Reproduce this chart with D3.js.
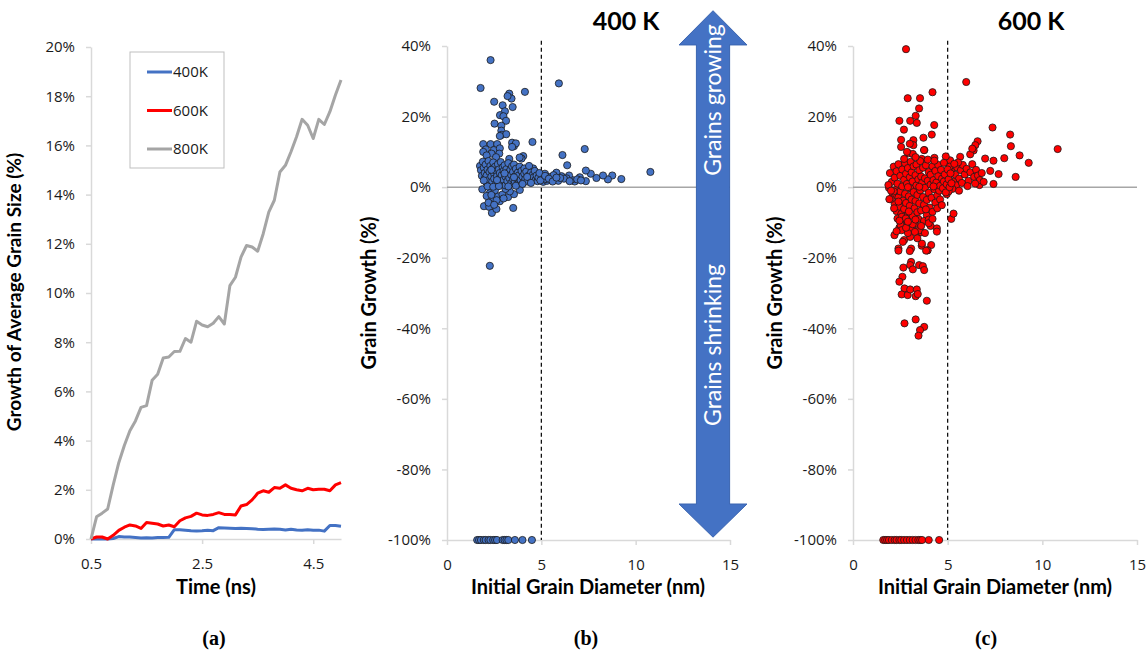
<!DOCTYPE html>
<html>
<head>
<meta charset="utf-8">
<script src="https://cdn.jsdelivr.net/npm/d3@7"></script>
<style>
  html, body { margin: 0; padding: 0; background: #fff; }
  svg { display: block; }
  .tick text { font-family: "Open Sans", sans-serif; font-size: 15px; fill: #1a1a1a; }
  .axis-title { font-family: Lato, sans-serif; font-weight: 700; font-size: 20px; fill: #000; }
  .panel-label { font-family: "Liberation Serif", serif; font-weight: 700; font-size: 20px; fill: #000; }
</style>
</head>
<body>
<script>
// (a) growth of average grain size vs time
const times = [0.5, 0.6, 0.7, 0.8, 0.9, 1.0, 1.1, 1.2, 1.3, 1.4, 1.5, 1.6, 1.7, 1.8, 1.9, 2.0, 2.1, 2.2, 2.3, 2.4, 2.5, 2.6, 2.7, 2.8, 2.9, 3.0, 3.1, 3.2, 3.3, 3.4, 3.5, 3.6, 3.7, 3.8, 3.9, 4.0, 4.1, 4.2, 4.3, 4.4, 4.5, 4.6, 4.7, 4.8, 4.9, 5.0];
const growth400 = [0, 0, 0, 0, 0.02, 0.1, 0.08, 0.08, 0.06, 0.04, 0.05, 0.04, 0.06, 0.06, 0.07, 0.38, 0.38, 0.36, 0.34, 0.33, 0.34, 0.36, 0.34, 0.46, 0.45, 0.44, 0.43, 0.44, 0.43, 0.42, 0.4, 0.39, 0.4, 0.41, 0.4, 0.37, 0.4, 0.37, 0.36, 0.38, 0.36, 0.36, 0.32, 0.55, 0.55, 0.52];
const growth600 = [0, 0.08, 0.08, 0, 0.15, 0.35, 0.48, 0.57, 0.53, 0.43, 0.67, 0.64, 0.61, 0.53, 0.57, 0.5, 0.74, 0.86, 0.92, 1.05, 0.98, 0.96, 1.0, 1.07, 1.0, 1.0, 0.98, 1.34, 1.4, 1.59, 1.86, 1.96, 1.9, 2.09, 2.06, 2.2, 2.06, 2.0, 1.96, 2.06, 2.0, 2.02, 2.02, 1.96, 2.2, 2.29];
const growth800 = [0, 0.9, 1.05, 1.22, 2.2, 3.1, 3.8, 4.4, 4.8, 5.35, 5.42, 6.45, 6.7, 7.36, 7.4, 7.62, 7.63, 8.15, 8.0, 8.85, 8.7, 8.63, 8.77, 9.04, 8.74, 10.3, 10.64, 11.46, 11.93, 11.87, 11.7, 12.41, 13.29, 13.77, 14.92, 15.19, 15.74, 16.35, 17.06, 16.82, 16.28, 17.06, 16.85, 17.37, 18.05, 18.66];
const seriesNames = ['400K', '600K', '800K'];
const timeTicks = [0.5, 2.5, 4.5];
const growthTicks = [0, 2, 4, 6, 8, 10, 12, 14, 16, 18, 20];

// (b), (c) grain growth vs initial diameter: [diameter nm, growth %]
const grains400 = [
  [2.31,36.0],[1.78,28.1],[5.93,29.4],[4.13,27.0],[3.30,26.5],[3.42,25.1],[3.21,25.8],[2.50,24.2],[3.48,22.7],[2.95,23.2],
  [3.07,21.5],[2.81,20.4],[2.99,20.1],[3.13,18.8],[2.52,18.0],[2.88,17.4],[2.88,16.0],[2.88,14.8],[3.14,15.0],[2.80,14.5],
  [3.45,12.6],[4.53,12.8],[3.55,11.6],[3.65,12.4],[3.45,11.4],[1.92,12.2],[2.31,12.2],[2.66,12.2],[2.06,10.7],[2.48,10.5],
  [2.80,11.0],[2.36,9.5],[2.77,9.5],[7.30,10.8],[6.12,9.1],[6.37,6.2],[4.04,8.8],[3.95,8.1],[3.85,8.4],[1.92,10.0],
  [2.1,9.0],[2.6,8.5],[3.3,8.0],
  [10.78,4.3],[9.24,2.3],[8.76,3.3],[8.53,2.2],[8.27,3.3],[7.92,2.6],[7.62,3.8],[7.36,4.7],[7.36,1.7],[7.04,2.8],
  [6.77,1.6],[6.60,2.1],[6.47,3.3],[6.34,2.5],[6.07,3.1],[5.80,4.1],[5.59,2.9],[5.36,2.9],[5.19,3.8],[5.01,2.5],
  [5.10,1.5],[4.84,2.0],[4.57,5.3],[5.5,2.0],[5.7,2.3],[5.9,1.8],[6.2,2.4],[6.9,2.2],[7.1,1.9],[6.5,1.7],
  [5.3,1.8],[5.65,3.4],[6.0,2.6],[4.95,3.2],[5.25,2.3],
  [1.87,-0.6],[1.96,-5.4],[2.24,-5.6],[2.38,-7.3],[2.62,-6.2],[3.51,-5.9],[2.27,-1.7],[2.45,-3.1],[2.71,-2.6],[2.94,-2.1],
  [3.24,-2.8],[3.55,-2.0],[2.80,-4.0],[2.54,-0.9],[2.27,-22.3],[2.63,-3.7],[3.86,-0.8],[3.33,-1.2],[2.1,-2.5],[2.2,-4.4],
  [3.0,-3.2],[2.5,-5.0],[2.35,-2.2],[3.1,-0.5],
  [1.75,6.0],[1.8,4.8],[1.85,3.2],[1.9,7.2],[1.95,5.5],[2.0,2.4],[2.0,4.0],[2.05,6.4],[2.1,1.2],[2.1,3.3],
  [2.15,5.0],[2.2,7.4],[2.2,2.0],[2.25,4.3],[2.3,6.0],[2.3,0.6],[2.35,3.0],[2.4,5.2],[2.4,1.6],[2.45,7.0],
  [2.5,3.8],[2.5,2.4],[2.55,5.8],[2.6,0.9],[2.6,4.5],[2.65,3.1],[2.7,6.5],[2.7,1.8],[2.75,5.0],[2.8,2.6],
  [2.8,4.0],[2.85,7.1],[2.9,1.2],[2.9,3.4],[2.95,5.6],[3.0,2.1],[3.0,4.6],[3.05,6.2],[3.1,0.5],[3.1,3.0],
  [3.15,5.1],[3.2,1.7],[3.2,4.0],[3.25,6.8],[3.3,2.6],[3.35,4.8],[3.4,1.1],[3.4,3.5],[3.45,5.9],[3.5,2.2],
  [3.5,4.3],[3.55,6.4],[3.6,1.5],[3.6,3.1],[3.65,5.2],[3.7,2.5],[3.75,4.1],[3.8,1.0],[3.8,3.3],[3.85,5.8],
  [3.9,2.0],[3.95,4.6],[4.0,3.0],[4.05,1.4],[4.1,5.3],[4.1,3.8],[4.15,2.3],[4.2,4.4],[4.25,1.6],[4.3,3.2],
  [4.35,6.0],[4.4,2.6],[4.45,4.1],[4.5,1.9],[4.55,3.5],[4.6,2.8],[4.65,4.6],[4.7,2.1],[4.75,3.3],[4.8,1.7],
  [4.85,2.7],[4.9,4.0],[4.95,1.9],[2.15,0.2],[2.45,0.1],[2.75,0.3],[3.25,0.2],[3.65,0.4],[4.0,0.9],[1.95,1.9],
  [2.35,4.9],[2.65,2.0],[3.05,3.9],[3.55,2.8],[4.25,2.9],[4.45,1.2],[5.2,3.2],[5.4,2.4],[5.6,1.6],[5.8,2.7],
  [1.6,-100],[1.7,-100],[1.8,-100],[1.95,-100],[2.05,-100],[2.2,-100],[2.3,-100],[2.45,-100],[2.55,-100],[2.65,-100],
  [2.95,-100],[3.05,-100],[3.15,-100],[3.25,-100],[3.6,-100],[4.0,-100],[4.5,-100]
];
const grains600 = [
  [2.80,39.1],[5.98,29.8],[4.20,26.9],[2.89,25.2],[3.54,25.2],[3.49,22.3],[3.31,20.2],[2.45,18.8],[3.02,18.8],[3.37,18.2],
  [2.69,16.3],[4.29,17.6],[4.16,14.9],[7.37,16.9],[8.30,14.9],[8.34,11.6],[8.80,9.0],[9.28,6.9],[10.81,10.8],[8.59,2.9],
  [7.99,8.2],[7.69,3.7],[7.42,7.5],[7.42,0.9],[7.25,4.6],[6.98,8.1],[6.68,0.6],[6.58,13.0],[6.46,11.9],[6.37,10.4],
  [6.19,9.3],[5.66,8.6],[5.13,7.6],[4.90,8.7],[3.72,14.0],[3.19,13.3],[2.54,13.4],[2.54,11.4],[3.19,11.9],[2.93,9.6],
  [3.16,9.4],[3.77,10.5],[3.63,8.0],[4.30,8.3],[2.63,3.6],[3.0,12.3],[2.85,10.0],[3.75,10.5],[6.3,10.9],
  [5.0,3.0],[5.2,4.5],[5.4,3.5],[5.5,5.6],[5.6,2.4],[5.7,4.8],[5.8,6.3],[5.9,3.6],[6.0,5.2],[6.1,1.8],
  [6.2,4.2],[6.3,6.5],[6.4,2.9],[6.5,4.9],[6.6,3.3],[6.7,2.0],[5.3,1.5],[5.45,0.5],[5.75,1.2],[6.05,0.3],
  [5.1,5.8],[5.55,7.0],[6.45,1.0],[5.25,-0.5],[5.6,-1.0],[4.95,-2.0],[5.05,-1.2],[5.35,6.6],[6.8,4.0],[6.9,1.5],
  [1.95,4.0],[2.05,1.5],[2.1,-2.3],[2.15,5.8],[2.2,-4.8],[2.2,2.7],[2.25,-0.8],[2.3,4.5],[2.3,-6.8],[2.35,1.0],
  [2.4,-2.9],[2.4,6.5],[2.45,-5.5],[2.5,3.2],[2.5,-1.2],[2.55,-7.6],[2.6,5.0],[2.6,0.2],[2.65,-3.8],[2.7,2.1],
  [2.7,-6.2],[2.75,6.8],[2.75,-1.9],[2.8,3.8],[2.8,-4.5],[2.85,0.9],[2.9,-7.8],[2.9,5.4],[2.95,-2.6],[3.0,2.8],
  [3.0,-5.3],[3.05,7.2],[3.05,-0.4],[3.1,4.2],[3.1,-3.5],[3.15,-8.2],[3.15,1.6],[3.2,5.9],[3.2,-1.4],[3.25,-6.0],
  [3.3,3.4],[3.3,-3.9],[3.35,0.5],[3.35,6.4],[3.4,-2.2],[3.4,-7.1],[3.45,2.2],[3.5,4.8],[3.5,-4.6],[3.55,-0.9],
  [3.55,7.4],[3.6,-6.6],[3.6,3.0],[3.65,1.2],[3.7,-2.8],[3.7,5.5],[3.75,-5.0],[3.8,-0.2],[3.8,2.5],[3.85,6.2],
  [3.9,-3.6],[3.9,-8.0],[3.95,1.8],[4.0,4.3],[4.0,-1.6],[4.05,-5.8],[4.1,0.7],[4.1,3.5],[4.15,-3.0],[4.2,5.9],
  [4.2,-7.0],[4.25,2.0],[4.3,-0.6],[4.35,-4.4],[4.35,4.6],[4.4,1.3],[4.45,-2.3],[4.5,6.3],[4.5,3.1],[4.55,-1.0],
  [4.6,-3.5],[4.6,0.4],[4.65,4.9],[4.7,2.4],[4.75,-0.3],[4.8,1.6],[4.8,6.9],[4.85,3.6],[4.9,-1.5],[4.95,0.8],
  [5.0,5.0],[5.05,2.2],[5.1,0.0],[5.15,3.9],[5.2,1.1],[2.0,-3.4],[2.35,-8.9],[2.55,-10.0],[2.85,-9.4],[3.25,-10.5],
  [3.45,-9.0],[3.75,-9.6],[4.0,-9.2],[2.45,-11.5],[3.1,-11.8],[3.6,-12.8],[4.1,-11.0],[2.95,-6.9],[3.85,-6.3],[4.45,-6.0],
  [2.7,8.0],[3.3,8.5],[3.95,7.8],[4.3,7.5],[2.9,0.0],[3.5,0.1],[4.25,0.2],[2.15,-1.2],[1.9,-0.2],
  [1.87,0.6],[2.01,-1.0],[1.92,-3.4],[2.17,-6.0],[2.40,-4.1],[2.58,-8.4],[2.52,-10.8],[2.19,-13.6],[2.40,-17.4],[2.70,-15.0],
  [3.07,-17.4],[3.93,-17.9],[4.13,-16.4],[3.63,-16.6],[3.51,-12.2],[4.43,-11.7],[4.43,-12.6],[4.69,-5.1],[5.19,-9.0],[5.31,-7.5],
  [2.79,-8.9],[3.02,-14.1],[3.27,-12.7],[3.64,-16.0],[3.94,-17.9],[2.57,-12.2],[2.63,-15.5],
  [2.66,-22.8],[3.07,-21.2],[3.02,-22.1],[3.16,-23.3],[3.49,-22.1],[3.69,-22.4],[3.76,-23.5],[2.61,-25.4],[2.45,-26.8],[2.72,-28.7],
  [2.57,-30.4],[2.89,-30.6],[3.02,-29.0],[3.31,-30.9],[3.37,-29.0],[3.42,-30.3],[3.90,-32.2],[2.72,-38.6],[3.31,-37.5],[3.76,-39.6],
  [3.54,-40.5],[3.46,-42.1],[2.4,-18.0],[3.0,-18.1],[3.86,-18.0],[2.9,-13.0],[3.4,-14.5],[2.3,-12.5],[3.8,-13.0],[2.8,-11.5],
  [3.15,-10.5],[3.6,-11.0],[4.0,-10.2],[2.45,-9.5],[2.9,-9.8],[3.3,-9.2],[4.2,-9.0],
  [1.6,-100],[1.7,-100],[1.8,-100],[1.9,-100],[2.05,-100],[2.2,-100],[2.3,-100],[2.45,-100],[2.55,-100],[2.7,-100],
  [2.85,-100],[3.0,-100],[3.15,-100],[3.3,-100],[3.45,-100],[3.55,-100],[3.65,-100],[4.0,-100],[4.55,-100]
];
const diameterTicks = [0, 5, 10, 15];
const grainGrowthTicks = [-100, -80, -60, -40, -20, 0, 20, 40];
const criticalDiameter = 5;

const blue = '#4472C4';
const red = '#FF0000';
const gray = '#A5A5A5';
const axisGray = '#D9D9D9';

const pct = d => (d < 0 ? '-' + Math.abs(d) : d) + '%';

const svg = d3.select('body').append('svg')
  .attr('width', 1148)
  .attr('height', 655);

function styleAxis(g) {
  g.select('.domain').attr('stroke', axisGray).attr('stroke-width', 1.5);
  g.selectAll('.tick line').attr('stroke', axisGray).attr('stroke-width', 1.5);
}

function yTitle(x, y, text, size) {
  svg.append('text')
    .attr('class', 'axis-title')
    .attr('transform', `translate(${x},${y}) rotate(-90)`)
    .attr('text-anchor', 'middle')
    .style('font-size', size + 'px')
    .text(text);
}

function xTitle(x, y, text) {
  svg.append('text')
    .attr('class', 'axis-title')
    .attr('x', x)
    .attr('y', y)
    .attr('text-anchor', 'middle')
    .text(text);
}

// ---- panel (a)
const xA = d3.scaleLinear().domain([0.5, 5.0]).range([91, 341]);
const yA = d3.scaleLinear().domain([0, 20]).range([539, 47]);

svg.append('g')
  .attr('transform', `translate(0,${yA(0)})`)
  .call(d3.axisBottom(xA).tickValues(timeTicks).tickSize(5).tickPadding(14).tickFormat(d => d.toFixed(1)).tickSizeOuter(0))
  .call(styleAxis);

svg.append('g')
  .attr('transform', `translate(${xA(0.5)},0)`)
  .call(d3.axisLeft(yA).tickValues(growthTicks).tickSize(5).tickPadding(11).tickFormat(pct).tickSizeOuter(0))
  .call(styleAxis);

const lineA = d3.line()
  .x((d, i) => xA(times[i]))
  .y(d => yA(d));

const seriesA = [
  { name: seriesNames[0], color: blue, values: growth400 },
  { name: seriesNames[1], color: red, values: growth600 },
  { name: seriesNames[2], color: gray, values: growth800 },
];

svg.append('g').selectAll('path')
  .data(seriesA)
  .join('path')
  .attr('d', d => lineA(d.values))
  .attr('fill', 'none')
  .attr('stroke', d => d.color)
  .attr('stroke-width', 3)
  .attr('stroke-linejoin', 'round');

// legend
const legend = svg.append('g').attr('transform', 'translate(130,52)');
legend.append('rect')
  .attr('width', 94)
  .attr('height', 116)
  .attr('fill', '#fff')
  .attr('stroke', '#BFBFBF')
  .attr('stroke-width', 1);

const legendItem = legend.selectAll('g.item')
  .data(seriesA)
  .join('g')
  .attr('class', 'item')
  .attr('transform', (d, i) => `translate(17,${20 + i * 38.5})`);

legendItem.append('line')
  .attr('x1', 0)
  .attr('x2', 25)
  .attr('stroke', d => d.color)
  .attr('stroke-width', 3);

legendItem.append('text')
  .attr('x', 26)
  .attr('dy', '0.35em')
  .style('font-family', '"Open Sans", sans-serif')
  .style('font-size', '15px')
  .attr('fill', '#1a1a1a')
  .text(d => d.name);

yTitle(21, 292, 'Growth of Average Grain Size (%)', 19);
xTitle(216, 594, 'Time (ns)');

// ---- panels (b) and (c)
function drawScatter(left, right, data, fill, title, titleX) {
  const x = d3.scaleLinear().domain([0, 15]).range([left, right]);
  const y = d3.scaleLinear().domain([-100, 40]).range([540, 46]);

  svg.append('g')
    .attr('transform', `translate(0,${y(-100)})`)
    .call(d3.axisBottom(x).tickValues(diameterTicks).tickSize(5).tickPadding(14).tickSizeOuter(0))
    .call(styleAxis);

  svg.append('g')
    .attr('transform', `translate(${x(0)},0)`)
    .call(d3.axisLeft(y).tickValues(grainGrowthTicks).tickSize(5).tickPadding(11).tickFormat(pct).tickSizeOuter(0))
    .call(styleAxis);

  // zero line
  svg.append('line')
    .attr('x1', x(0)).attr('x2', x(15))
    .attr('y1', y(0)).attr('y2', y(0))
    .attr('stroke', '#A6A6A6')
    .attr('stroke-width', 1.5);

  // critical diameter
  svg.append('line')
    .attr('x1', x(criticalDiameter)).attr('x2', x(criticalDiameter))
    .attr('y1', y(41.5)).attr('y2', y(-100))
    .attr('stroke', '#000')
    .attr('stroke-width', 1.2)
    .attr('stroke-dasharray', '4,3');

  svg.append('g').selectAll('circle')
    .data(data)
    .join('circle')
    .attr('cx', d => x(d[0]))
    .attr('cy', d => y(d[1]))
    .attr('r', 3.6)
    .attr('fill', fill)
    .attr('stroke', '#1a1a1a')
    .attr('stroke-width', 0.8);

  svg.append('text')
    .attr('x', titleX)
    .attr('y', 30)
    .attr('text-anchor', 'middle')
    .style('font-family', 'Lato, sans-serif')
    .style('font-weight', 700)
    .style('font-size', '25px')
    .text(title);

  return { x, y };
}

const b = drawScatter(447, 730, grains400, blue, '400 K', 626);
yTitle(376, 293, 'Grain Growth (%)', 20);
xTitle(588, 594, 'Initial Grain Diameter (nm)');

drawScatter(853, 1137, grains600, red, '600 K', 1031);
yTitle(782, 293, 'Grain Growth (%)', 20);
xTitle(995, 594, 'Initial Grain Diameter (nm)');

// double arrow across panel (b)
const ax = b.x(14.1);
const shaft = b.x(14.1) - b.x(13.22);
const head = b.x(14.1) - b.x(12.3);
const tipTop = b.y(50), baseTop = b.y(40.3), baseBot = b.y(-89.8), tipBot = b.y(-99.2);
svg.append('path')
  .attr('d', `M${ax},${tipTop}L${ax + head},${baseTop}L${ax + shaft},${baseTop}L${ax + shaft},${baseBot}L${ax + head},${baseBot}` +
    `L${ax},${tipBot}L${ax - head},${baseBot}L${ax - shaft},${baseBot}L${ax - shaft},${baseTop}L${ax - head},${baseTop}Z`)
  .attr('fill', blue)
  .attr('stroke', '#3A64B0')
  .attr('stroke-width', 1);

[['Grains growing', 100], ['Grains shrinking', 345]].forEach(([t, cy]) => {
  svg.append('text')
    .attr('transform', `translate(${ax},${cy}) rotate(-90)`)
    .attr('text-anchor', 'middle')
    .attr('dy', '0.35em')
    .style('font-family', 'Lato, sans-serif')
    .style('font-size', '23px')
    .attr('fill', '#fff')
    .text(t);
});

// panel labels
[['(a)', 214], ['(b)', 586], ['(c)', 986]].forEach(([t, x]) => {
  svg.append('text')
    .attr('class', 'panel-label')
    .attr('x', x)
    .attr('y', 645)
    .attr('text-anchor', 'middle')
    .text(t);
});
</script>
</body>
</html>
